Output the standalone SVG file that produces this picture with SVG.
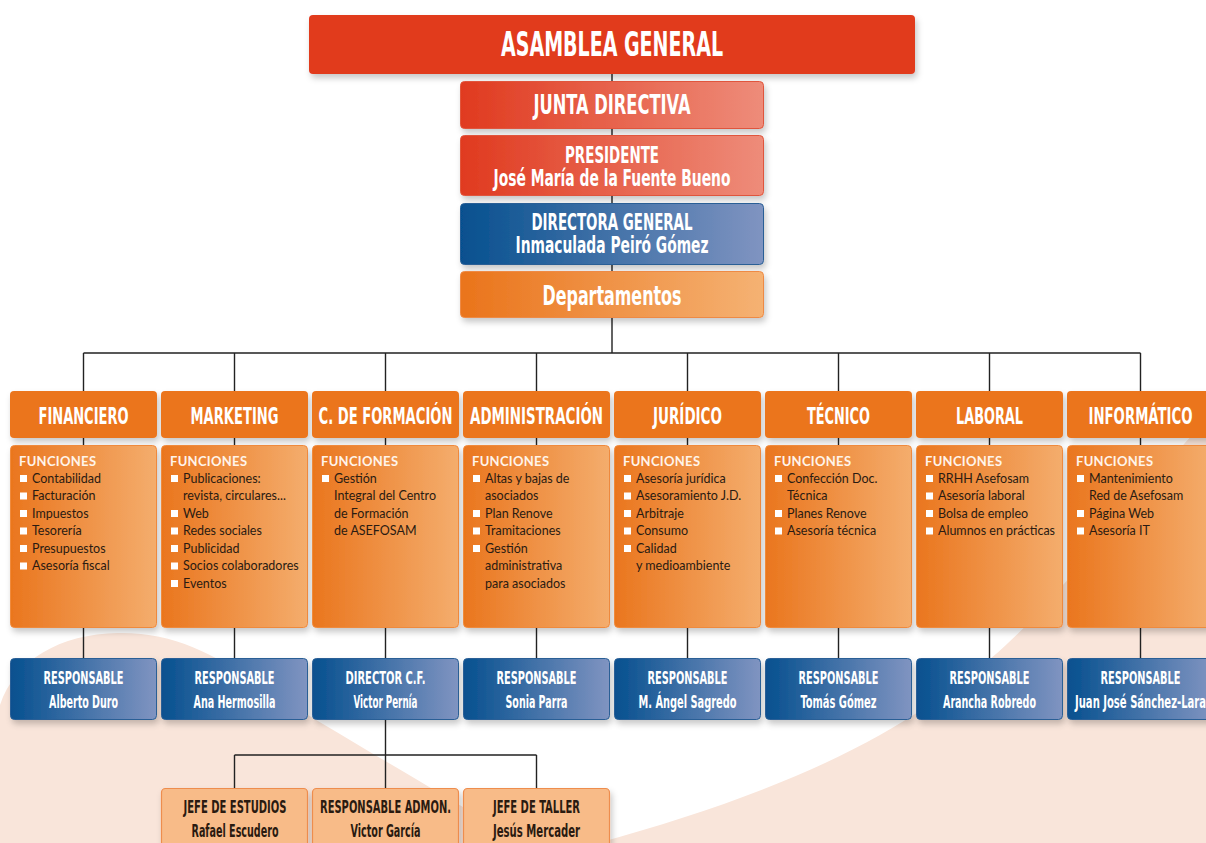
<svg xmlns="http://www.w3.org/2000/svg" width="1206" height="843" viewBox="0 0 1206 843">
<defs>
<linearGradient id="gRed" x1="0" y1="0" x2="1" y2="0"><stop offset="0" stop-color="#e03a1f"/><stop offset="1" stop-color="#ee8c7a"/></linearGradient>
<linearGradient id="gBlue" x1="0" y1="0" x2="1" y2="0"><stop offset="0" stop-color="#06508f"/><stop offset="1" stop-color="#8094c1"/></linearGradient>
<linearGradient id="gOrange" x1="0" y1="0" x2="1" y2="0"><stop offset="0" stop-color="#ea741b"/><stop offset="1" stop-color="#f5b273"/></linearGradient>
<linearGradient id="gFunc" x1="0" y1="0" x2="1" y2="0"><stop offset="0" stop-color="#ea761e"/><stop offset="1" stop-color="#f4ad6d"/></linearGradient>
<filter id="sh" x="-10%" y="-10%" width="130%" height="140%"><feDropShadow dx="2" dy="4" stdDeviation="3" flood-color="#000" flood-opacity="0.22"/></filter>
</defs>
<style>
.t{font-family:"Liberation Sans Narrow","DejaVu Sans Condensed","Liberation Sans",sans-serif;font-weight:bold;text-anchor:middle;fill:#fff}
.dk{fill:#2a1a10}
.f{font-family:Lato,"Open Sans",sans-serif;font-size:12.5px;fill:#2a1b12}
.fh{font-family:Lato,"Open Sans",sans-serif;font-size:13px;font-weight:bold;fill:#fff4ea;letter-spacing:0.3px}
.bl{fill:#ffffff}
.red{fill:url(#gRed);stroke:#e0553c;stroke-width:1;filter:url(#sh)}
.blue{fill:url(#gBlue);stroke:#2a5f96;stroke-width:1;filter:url(#sh)}
.org{fill:url(#gOrange);stroke:#ee8a45;stroke-width:1;filter:url(#sh)}
.dh{fill:#eb751b;filter:url(#sh)}
.fb{fill:url(#gFunc);stroke:#ef8a3e;stroke-width:1;filter:url(#sh)}
.lo{fill:#f8bb88;stroke:#ee8d4e;stroke-width:1.2;filter:url(#sh)}
.c{stroke:#222;stroke-width:1.4;fill:none}
</style>
<rect width="1206" height="843" fill="#fff"/>
<g id="background">
<path d="M0,843 L0,705 C15,660 60,634 118,633 C175,632 215,655 260,685 C330,730 420,780 522,843 Z" fill="#f9e5da"/>
<path d="M598,843 C700,815 800,780 880,735 C960,690 1010,645 1045,605 C1100,545 1150,480 1206,420 L1206,843 Z" fill="#f9e5da"/>
</g>
<g id="connectors">
<path class="c" d="M612,74 V353 M83.5,353 H1140.5 M83.5,353 V391 M234.5,353 V391 M385.5,353 V391 M536.5,353 V391 M687.5,353 V391 M838.5,353 V391 M989.5,353 V391 M1140.5,353 V391"/>
<path class="c" d="M83.5,438 V658 M234.5,438 V658 M385.5,438 V658 M536.5,438 V658 M687.5,438 V658 M838.5,438 V658 M989.5,438 V658 M1140.5,438 V658"/>
<path class="c" d="M385.5,719 V788 M234.5,755 H536.5 M234.5,755 V788 M536.5,755 V788"/>
</g>
<g id="asamblea"><rect x="309" y="15" width="606" height="59" rx="4" fill="#e13a1f" filter="url(#sh)"/><text class="t" x="612" y="56" font-size="34" textLength="222" lengthAdjust="spacingAndGlyphs">ASAMBLEA GENERAL</text></g>
<g id="junta"><rect class="red" x="460.5" y="81.5" width="303" height="47" rx="4"/><text class="t" x="612" y="113.5" font-size="27" textLength="157" lengthAdjust="spacingAndGlyphs">JUNTA DIRECTIVA</text></g>
<g id="presidente"><rect class="red" x="460.5" y="135.5" width="303" height="60" rx="4"/><text class="t" x="612" y="162.5" font-size="23.5" textLength="94" lengthAdjust="spacingAndGlyphs">PRESIDENTE</text><text class="t" x="612" y="185.5" font-size="23.5" textLength="237" lengthAdjust="spacingAndGlyphs">José María de la Fuente Bueno</text></g>
<g id="directora"><rect class="blue" x="460.5" y="203.5" width="303" height="61" rx="4"/><text class="t" x="612" y="229.5" font-size="23.5" textLength="161" lengthAdjust="spacingAndGlyphs">DIRECTORA GENERAL</text><text class="t" x="612" y="252.5" font-size="23.5" textLength="193" lengthAdjust="spacingAndGlyphs">Inmaculada Peiró Gómez</text></g>
<g id="departamentos"><rect class="org" x="460.5" y="271.5" width="303" height="46" rx="4"/><text class="t" x="612" y="304.5" font-size="27" textLength="139" lengthAdjust="spacingAndGlyphs">Departamentos</text></g>

<g id="dep-financiero"><rect class="dh" x="10" y="391" width="147" height="47" rx="4"/><text class="t" x="83.5" y="423.5" font-size="22.5" textLength="90" lengthAdjust="spacingAndGlyphs">FINANCIERO</text>
<rect class="fb" x="10.5" y="445.5" width="146" height="182" rx="4"/>
<text class="fh" x="19" y="466">FUNCIONES</text>
<rect class="bl" x="20" y="475" width="7" height="7"/><text class="f" x="32" y="482.5">Contabilidad</text>
<rect class="bl" x="20" y="492.5" width="7" height="7"/><text class="f" x="32" y="500">Facturación</text>
<rect class="bl" x="20" y="510" width="7" height="7"/><text class="f" x="32" y="517.5">Impuestos</text>
<rect class="bl" x="20" y="527.5" width="7" height="7"/><text class="f" x="32" y="535">Tesorería</text>
<rect class="bl" x="20" y="545" width="7" height="7"/><text class="f" x="32" y="552.5">Presupuestos</text>
<rect class="bl" x="20" y="562.5" width="7" height="7"/><text class="f" x="32" y="570">Asesoría fiscal</text>
<rect class="blue" x="10.5" y="658.5" width="146" height="61" rx="4"/><text class="t" x="83.5" y="683.5" font-size="18" textLength="80" lengthAdjust="spacingAndGlyphs">RESPONSABLE</text><text class="t" x="83.5" y="707.5" font-size="18" textLength="69" lengthAdjust="spacingAndGlyphs">Alberto Duro</text></g>

<g id="dep-marketing"><rect class="dh" x="161" y="391" width="147" height="47" rx="4"/><text class="t" x="234.5" y="423.5" font-size="22.5" textLength="88" lengthAdjust="spacingAndGlyphs">MARKETING</text>
<rect class="fb" x="161.5" y="445.5" width="146" height="182" rx="4"/>
<text class="fh" x="170" y="466">FUNCIONES</text>
<rect class="bl" x="171" y="475" width="7" height="7"/><text class="f" x="183" y="482.5">Publicaciones:</text>
<text class="f" x="183" y="500">revista, circulares...</text>
<rect class="bl" x="171" y="510" width="7" height="7"/><text class="f" x="183" y="517.5">Web</text>
<rect class="bl" x="171" y="527.5" width="7" height="7"/><text class="f" x="183" y="535">Redes sociales</text>
<rect class="bl" x="171" y="545" width="7" height="7"/><text class="f" x="183" y="552.5">Publicidad</text>
<rect class="bl" x="171" y="562.5" width="7" height="7"/><text class="f" x="183" y="570">Socios colaboradores</text>
<rect class="bl" x="171" y="580" width="7" height="7"/><text class="f" x="183" y="587.5">Eventos</text>
<rect class="blue" x="161.5" y="658.5" width="146" height="61" rx="4"/><text class="t" x="234.5" y="683.5" font-size="18" textLength="80" lengthAdjust="spacingAndGlyphs">RESPONSABLE</text><text class="t" x="234.5" y="707.5" font-size="18" textLength="82" lengthAdjust="spacingAndGlyphs">Ana Hermosilla</text></g>

<g id="dep-formacion"><rect class="dh" x="312" y="391" width="147" height="47" rx="4"/><text class="t" x="385.5" y="423.5" font-size="22.5" textLength="134" lengthAdjust="spacingAndGlyphs">C. DE FORMACIÓN</text>
<rect class="fb" x="312.5" y="445.5" width="146" height="182" rx="4"/>
<text class="fh" x="321" y="466">FUNCIONES</text>
<rect class="bl" x="322" y="475" width="7" height="7"/><text class="f" x="334" y="482.5">Gestión</text>
<text class="f" x="334" y="500">Integral del Centro</text>
<text class="f" x="334" y="517.5">de Formación</text>
<text class="f" x="334" y="535">de ASEFOSAM</text>
<rect class="blue" x="312.5" y="658.5" width="146" height="61" rx="4"/><text class="t" x="385.5" y="683.5" font-size="18" textLength="80" lengthAdjust="spacingAndGlyphs">DIRECTOR C.F.</text><text class="t" x="385.5" y="707.5" font-size="18" textLength="64" lengthAdjust="spacingAndGlyphs">Victor Pernía</text></g>

<g id="dep-administracion"><rect class="dh" x="463" y="391" width="147" height="47" rx="4"/><text class="t" x="536.5" y="423.5" font-size="22.5" textLength="133" lengthAdjust="spacingAndGlyphs">ADMINISTRACIÓN</text>
<rect class="fb" x="463.5" y="445.5" width="146" height="182" rx="4"/>
<text class="fh" x="472" y="466">FUNCIONES</text>
<rect class="bl" x="473" y="475" width="7" height="7"/><text class="f" x="485" y="482.5">Altas y bajas de</text>
<text class="f" x="485" y="500">asociados</text>
<rect class="bl" x="473" y="510" width="7" height="7"/><text class="f" x="485" y="517.5">Plan Renove</text>
<rect class="bl" x="473" y="527.5" width="7" height="7"/><text class="f" x="485" y="535">Tramitaciones</text>
<rect class="bl" x="473" y="545" width="7" height="7"/><text class="f" x="485" y="552.5">Gestión</text>
<text class="f" x="485" y="570">administrativa</text>
<text class="f" x="485" y="587.5">para asociados</text>
<rect class="blue" x="463.5" y="658.5" width="146" height="61" rx="4"/><text class="t" x="536.5" y="683.5" font-size="18" textLength="80" lengthAdjust="spacingAndGlyphs">RESPONSABLE</text><text class="t" x="536.5" y="707.5" font-size="18" textLength="62" lengthAdjust="spacingAndGlyphs">Sonia Parra</text></g>

<g id="dep-juridico"><rect class="dh" x="614" y="391" width="147" height="47" rx="4"/><text class="t" x="687.5" y="423.5" font-size="22.5" textLength="69" lengthAdjust="spacingAndGlyphs">JURÍDICO</text>
<rect class="fb" x="614.5" y="445.5" width="146" height="182" rx="4"/>
<text class="fh" x="623" y="466">FUNCIONES</text>
<rect class="bl" x="624" y="475" width="7" height="7"/><text class="f" x="636" y="482.5">Asesoría jurídica</text>
<rect class="bl" x="624" y="492.5" width="7" height="7"/><text class="f" x="636" y="500">Asesoramiento J.D.</text>
<rect class="bl" x="624" y="510" width="7" height="7"/><text class="f" x="636" y="517.5">Arbitraje</text>
<rect class="bl" x="624" y="527.5" width="7" height="7"/><text class="f" x="636" y="535">Consumo</text>
<rect class="bl" x="624" y="545" width="7" height="7"/><text class="f" x="636" y="552.5">Calidad</text>
<text class="f" x="636" y="570">y medioambiente</text>
<rect class="blue" x="614.5" y="658.5" width="146" height="61" rx="4"/><text class="t" x="687.5" y="683.5" font-size="18" textLength="80" lengthAdjust="spacingAndGlyphs">RESPONSABLE</text><text class="t" x="687.5" y="707.5" font-size="18" textLength="98" lengthAdjust="spacingAndGlyphs">M. Ángel Sagredo</text></g>

<g id="dep-tecnico"><rect class="dh" x="765" y="391" width="147" height="47" rx="4"/><text class="t" x="838.5" y="423.5" font-size="22.5" textLength="63" lengthAdjust="spacingAndGlyphs">TÉCNICO</text>
<rect class="fb" x="765.5" y="445.5" width="146" height="182" rx="4"/>
<text class="fh" x="774" y="466">FUNCIONES</text>
<rect class="bl" x="775" y="475" width="7" height="7"/><text class="f" x="787" y="482.5">Confección Doc.</text>
<text class="f" x="787" y="500">Técnica</text>
<rect class="bl" x="775" y="510" width="7" height="7"/><text class="f" x="787" y="517.5">Planes Renove</text>
<rect class="bl" x="775" y="527.5" width="7" height="7"/><text class="f" x="787" y="535">Asesoría técnica</text>
<rect class="blue" x="765.5" y="658.5" width="146" height="61" rx="4"/><text class="t" x="838.5" y="683.5" font-size="18" textLength="80" lengthAdjust="spacingAndGlyphs">RESPONSABLE</text><text class="t" x="838.5" y="707.5" font-size="18" textLength="76" lengthAdjust="spacingAndGlyphs">Tomás Gómez</text></g>

<g id="dep-laboral"><rect class="dh" x="916" y="391" width="147" height="47" rx="4"/><text class="t" x="989.5" y="423.5" font-size="22.5" textLength="67" lengthAdjust="spacingAndGlyphs">LABORAL</text>
<rect class="fb" x="916.5" y="445.5" width="146" height="182" rx="4"/>
<text class="fh" x="925" y="466">FUNCIONES</text>
<rect class="bl" x="926" y="475" width="7" height="7"/><text class="f" x="938" y="482.5">RRHH Asefosam</text>
<rect class="bl" x="926" y="492.5" width="7" height="7"/><text class="f" x="938" y="500">Asesoría laboral</text>
<rect class="bl" x="926" y="510" width="7" height="7"/><text class="f" x="938" y="517.5">Bolsa de empleo</text>
<rect class="bl" x="926" y="527.5" width="7" height="7"/><text class="f" x="938" y="535">Alumnos en prácticas</text>
<rect class="blue" x="916.5" y="658.5" width="146" height="61" rx="4"/><text class="t" x="989.5" y="683.5" font-size="18" textLength="80" lengthAdjust="spacingAndGlyphs">RESPONSABLE</text><text class="t" x="989.5" y="707.5" font-size="18" textLength="93" lengthAdjust="spacingAndGlyphs">Arancha Robredo</text></g>

<g id="dep-informatico"><rect class="dh" x="1067" y="391" width="147" height="47" rx="4"/><text class="t" x="1140.5" y="423.5" font-size="22.5" textLength="104" lengthAdjust="spacingAndGlyphs">INFORMÁTICO</text>
<rect class="fb" x="1067.5" y="445.5" width="146" height="182" rx="4"/>
<text class="fh" x="1076" y="466">FUNCIONES</text>
<rect class="bl" x="1077" y="475" width="7" height="7"/><text class="f" x="1089" y="482.5">Mantenimiento</text>
<text class="f" x="1089" y="500">Red de Asefosam</text>
<rect class="bl" x="1077" y="510" width="7" height="7"/><text class="f" x="1089" y="517.5">Página Web</text>
<rect class="bl" x="1077" y="527.5" width="7" height="7"/><text class="f" x="1089" y="535">Asesoría IT</text>
<rect class="blue" x="1067.5" y="658.5" width="146" height="61" rx="4"/><text class="t" x="1140.5" y="683.5" font-size="18" textLength="80" lengthAdjust="spacingAndGlyphs">RESPONSABLE</text><text class="t" x="1140.5" y="707.5" font-size="18" textLength="131" lengthAdjust="spacingAndGlyphs">Juan José Sánchez-Lara</text></g>

<g id="jefe-estudios"><rect class="lo" x="161.5" y="788.5" width="146" height="70" rx="4"/><text class="t dk" x="235" y="812.5" font-size="18" textLength="103" lengthAdjust="spacingAndGlyphs">JEFE DE ESTUDIOS</text><text class="t dk" x="235" y="836.5" font-size="18" textLength="87" lengthAdjust="spacingAndGlyphs">Rafael Escudero</text></g>
<g id="resp-admon"><rect class="lo" x="312.5" y="788.5" width="146" height="70" rx="4"/><text class="t dk" x="385.5" y="812.5" font-size="18" textLength="131" lengthAdjust="spacingAndGlyphs">RESPONSABLE ADMON.</text><text class="t dk" x="385.5" y="836.5" font-size="18" textLength="70" lengthAdjust="spacingAndGlyphs">Victor García</text></g>
<g id="jefe-taller"><rect class="lo" x="463.5" y="788.5" width="146" height="70" rx="4"/><text class="t dk" x="536.5" y="812.5" font-size="18" textLength="87" lengthAdjust="spacingAndGlyphs">JEFE DE TALLER</text><text class="t dk" x="536.5" y="836.5" font-size="18" textLength="87" lengthAdjust="spacingAndGlyphs">Jesús Mercader</text></g>
</svg>
